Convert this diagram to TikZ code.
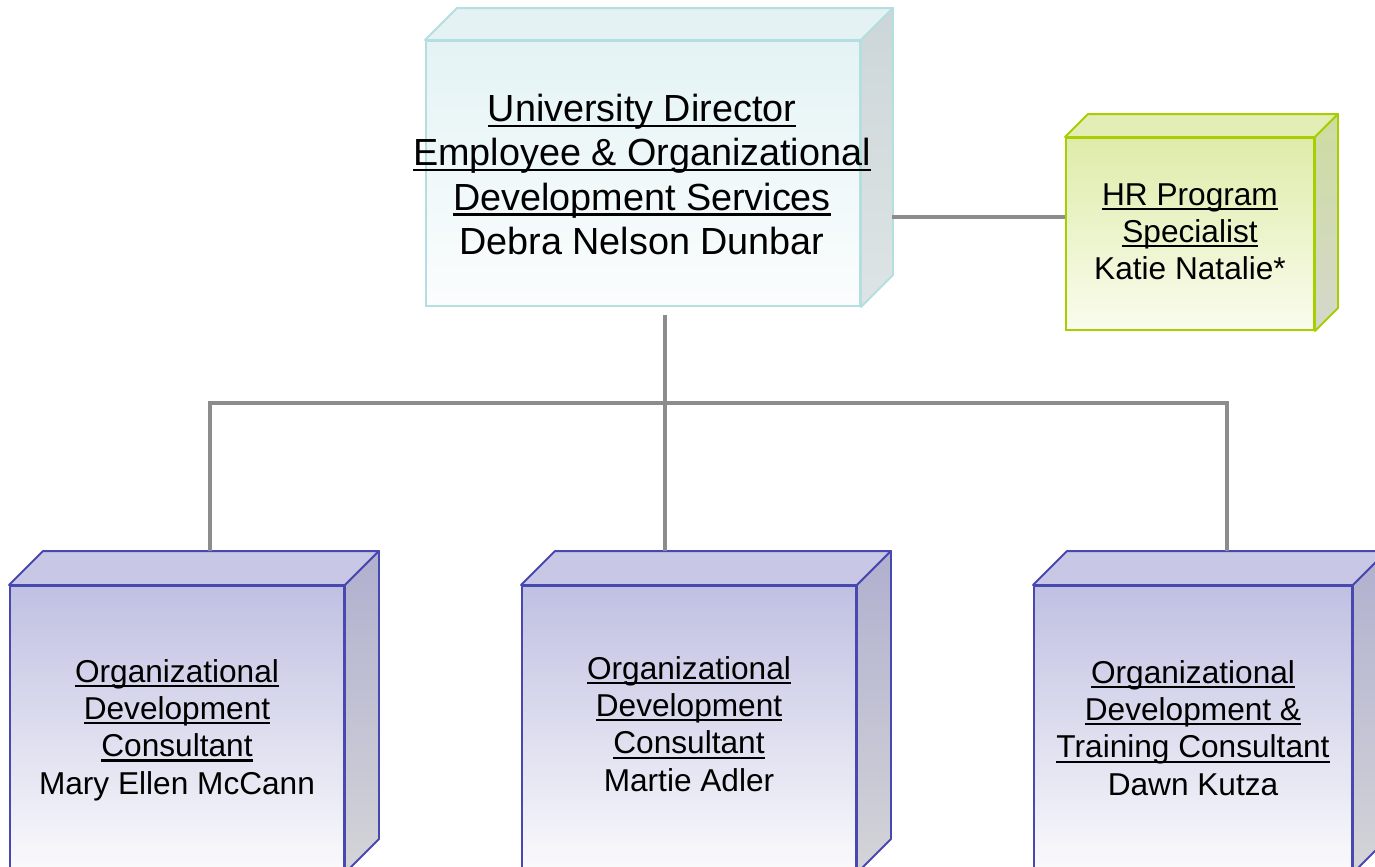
\documentclass[tikz,border=0pt]{standalone}
\usepackage{fontspec}
\setmainfont{Liberation Sans}
\usetikzlibrary{calc}
\definecolor{connc}{RGB}{140,140,140}
\definecolor{dirfront1}{RGB}{228,243,245}
\definecolor{dirfront2}{RGB}{251,253,253}
\definecolor{dirline}{RGB}{180,222,224}
\definecolor{dirside1}{RGB}{204,214,216}
\definecolor{dirside2}{RGB}{222,228,230}
\definecolor{dirtop}{RGB}{228,242,244}
\definecolor{hrfront1}{RGB}{222,236,170}
\definecolor{hrfront2}{RGB}{250,252,238}
\definecolor{hrline}{RGB}{166,206,0}
\definecolor{hrside1}{RGB}{206,220,160}
\definecolor{hrside2}{RGB}{212,216,204}
\definecolor{hrtop}{RGB}{226,238,182}
\definecolor{odfront1}{RGB}{192,192,226}
\definecolor{odfront2}{RGB}{250,250,252}
\definecolor{odline}{RGB}{72,72,176}
\definecolor{odside1}{RGB}{176,176,208}
\definecolor{odside2}{RGB}{212,212,216}
\definecolor{odtop}{RGB}{200,200,230}
\newcommand{\ulbig}[1]{\leavevmode\setbox0=\hbox{#1}\rlap{\rule[-3.1pt]{\wd0}{1.4pt}}\box0}
\newcommand{\ulsmall}[1]{\leavevmode\setbox0=\hbox{#1}\rlap{\rule[-2.7pt]{\wd0}{1.2pt}}\box0}
\tikzset{
  x=0.02cm, y=-0.02cm,
  conn/.style={draw=connc, line width=2.8pt},
  dirfront/.style={draw=dirline, line width=1.1pt, top color=dirfront1, bottom color=dirfront2},
  dirtopface/.style={draw=dirline, line width=1.1pt, fill=dirtop, line join=round},
  dirsideface/.style={draw=dirline, line width=1.1pt, top color=dirside1, bottom color=dirside2, line join=round},
  hrfront/.style={draw=hrline, line width=1.1pt, top color=hrfront1, bottom color=hrfront2},
  hrtopface/.style={draw=hrline, line width=1.1pt, fill=hrtop, line join=round},
  hrsideface/.style={draw=hrline, line width=1.1pt, top color=hrside1, bottom color=hrside2, line join=round},
  odfront/.style={draw=odline, line width=1.1pt, top color=odfront1, bottom color=odfront2},
  odtopface/.style={draw=odline, line width=1.1pt, fill=odtop, line join=round},
  odsideface/.style={draw=odline, line width=1.1pt, top color=odside1, bottom color=odside2, line join=round},
  bigtext/.style={font=\fontsize{21.5}{25.2}\selectfont, align=center, text=black, inner sep=0pt},
  smalltext/.style={font=\fontsize{18}{21.2}\selectfont, align=center, text=black, inner sep=0pt},
}
% #1 name, #2 xl, #3 yt, #4 xr, #5 yb, #6 depth, #7 style prefix
\newcommand{\orgcube}[7]{%
  \node[#7front, inner sep=0pt, anchor=center,
        minimum width={(#4-#2)*0.02cm}, minimum height={(#5-#3)*0.02cm}]
        (#1) at ({(#2+#4)/2},{(#3+#5)/2}) {};
  \path[#7topface] (#1.north west) -- ++(#6,-#6) -- ($(#1.north east)+(#6,-#6)$) -- (#1.north east) -- cycle;
  \path[#7sideface] (#1.north east) -- ++(#6,-#6) -- ($(#1.south east)+(#6,-#6)$) -- (#1.south east) -- cycle;
}
\begin{document}
\begin{tikzpicture}
\useasboundingbox (0,0) rectangle (1375,866);
\clip (0,0) rectangle (1375,866);
\fill[white] (0,0) rectangle (1375,866);

\coordinate (dirR) at (892,217);
\coordinate (dirB) at (665,315);
\coordinate (bus) at (0,403);
\coordinate (c1top) at (210,551);
\coordinate (c2top) at (665,551);
\coordinate (c3top) at (1227,551);

\orgcube{dir}{426}{41}{860}{306}{32}{dir}
\orgcube{hr}{1066}{138}{1314}{330}{23}{hr}
\orgcube{c1}{10}{586}{344}{872}{34}{od}
\orgcube{c2}{522}{586}{856}{872}{34}{od}
\orgcube{c3}{1034}{586}{1352}{872}{34}{od}

\node[bigtext] (dirtext) at ($(dir.center)+(-1,1)$) {\ulbig{University Director}\\\ulbig{Employee \& Organizational}\\\ulbig{Development Services}\\Debra Nelson Dunbar};
\node[smalltext] (hrtext) at ($(hr.center)+(0,-2)$) {\ulsmall{HR Program}\\\ulsmall{Specialist}\\Katie Natalie*};
\node[smalltext] (c1text) at ($(c1.center)+(0,1)$) {\ulsmall{Organizational}\\\ulsmall{Development}\\\ulsmall{Consultant}\\Mary Ellen McCann};
\node[smalltext] (c2text) at ($(c2.center)+(0,-5)$) {\ulsmall{Organizational}\\\ulsmall{Development}\\\ulsmall{Consultant}\\Martie Adler};
\node[smalltext] (c3text) at ($(c3.center)+(0,-1)$) {\ulsmall{Organizational}\\\ulsmall{Development \&}\\\ulsmall{Training Consultant}\\Dawn Kutza};

\draw[conn] (dirR) -- (hr.west |- dirR);
\draw[conn] (dirB) -- (c2top);
\draw[conn] (c1top) -- (c1top |- bus) -- (c3top |- bus) -- (c3top);
\end{tikzpicture}
\end{document}
